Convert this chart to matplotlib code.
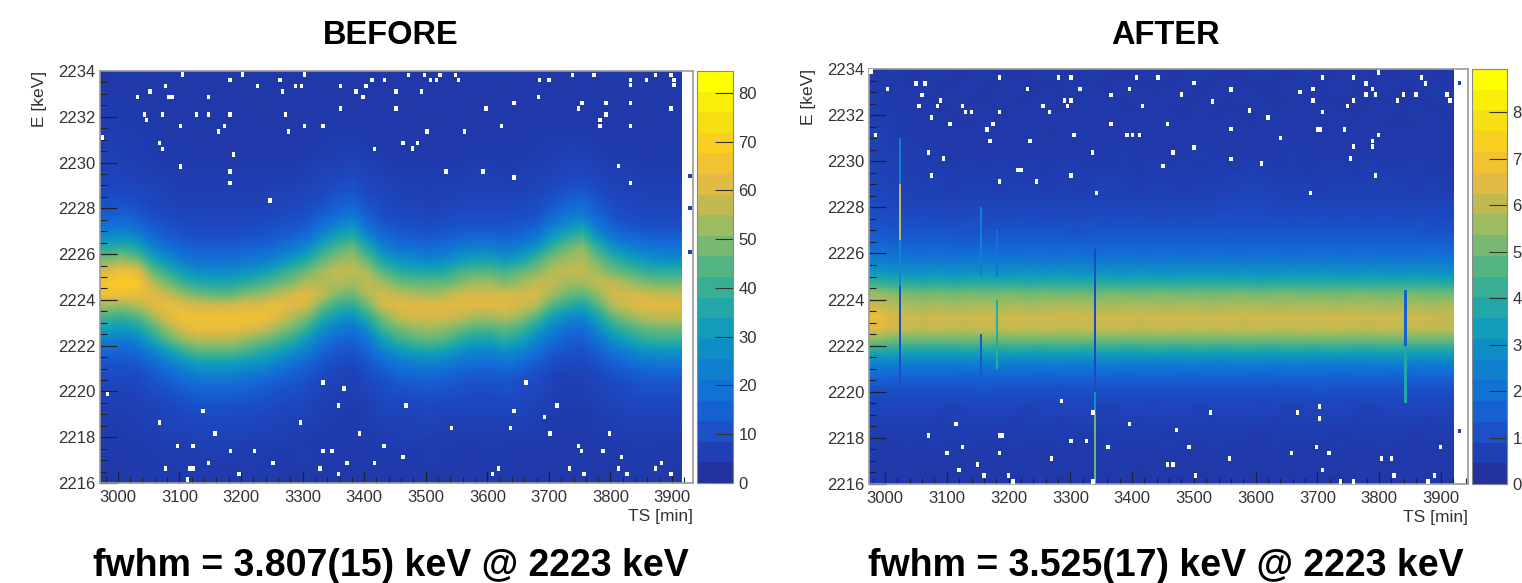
import numpy as np
import matplotlib
matplotlib.use("Agg")
import matplotlib.pyplot as plt
from matplotlib.colors import LinearSegmentedColormap, BoundaryNorm, Normalize
from matplotlib.cm import ScalarMappable
from matplotlib.ticker import MultipleLocator

plt.rcParams['font.family'] = ['Liberation Sans', 'DejaVu Sans']

# Counts per coarse cell, read by eye: rows from 2234 keV down to 2216 keV (0.5 keV), 38 time columns
before_counts = [
[2,3,2,2,3,2,2,2,3,2,2,3,2,2,2,3,2,2,3,2,2,2,3,2,2,3,2,2,2,2,3,2,2,3,2,2,2,3],
[3,2,2,3,2,2,3,2,2,2,3,2,2,3,2,2,2,3,2,2,3,2,2,2,3,2,2,3,2,2,2,3,2,2,2,3,2,2],
[3,3,2,2,3,2,2,3,2,2,2,2,3,2,3,2,2,2,3,2,2,3,2,3,2,2,3,2,2,3,2,2,3,2,2,2,3,2],
[3,3,3,2,2,3,2,2,3,2,2,3,2,2,3,3,2,2,2,3,2,2,3,2,2,3,2,2,3,2,3,2,2,2,3,2,2,3],
[4,3,3,3,2,2,3,2,2,3,2,2,2,3,2,3,3,2,3,2,3,2,2,3,2,2,3,3,2,3,3,3,2,3,2,2,3,2],
[4,4,3,3,3,2,2,3,3,2,3,2,3,2,3,3,3,3,2,3,2,3,3,2,3,3,2,3,3,3,3,3,3,2,3,3,2,3],
[4,4,4,3,3,3,2,3,2,3,2,3,2,3,3,4,4,3,3,2,3,3,2,3,3,3,3,3,3,4,4,4,3,3,3,2,3,3],
[5,4,4,3,3,3,3,2,3,3,3,2,3,3,4,4,5,4,3,3,3,3,3,3,3,3,3,3,4,4,5,5,4,3,3,3,3,3],
[5,5,4,4,3,3,3,3,3,3,3,3,3,4,5,5,6,5,4,3,3,3,3,3,4,4,3,4,4,5,6,6,5,4,4,3,3,3],
[6,6,5,5,4,4,4,4,4,4,4,4,4,5,6,7,8,6,5,4,4,4,4,4,5,5,4,5,5,6,7,8,6,5,5,4,4,4],
[7,7,7,6,5,4,4,4,4,4,4,5,5,6,7,9,10,7,6,5,5,4,5,5,5,5,5,5,6,8,10,11,8,6,5,5,5,5],
[9,10,8,6,5,5,5,5,5,5,5,6,6,7,9,12,14,9,7,6,5,5,5,6,6,6,6,7,8,10,14,16,10,8,6,6,5,5],
[12,13,11,8,7,6,6,6,6,6,6,7,8,9,12,16,19,12,8,7,7,6,7,8,8,8,8,8,9,14,19,21,14,9,8,7,7,7],
[18,19,16,11,9,8,7,7,7,7,8,9,10,12,18,24,28,17,11,9,9,8,9,10,10,10,10,11,13,21,27,31,20,13,10,9,9,9],
[26,28,24,16,12,10,9,9,9,10,10,12,14,17,26,34,38,25,16,13,12,11,12,14,15,15,14,16,20,30,38,42,29,19,16,14,13,13],
[37,40,35,24,18,14,13,13,13,14,15,17,21,26,37,44,48,36,24,19,18,16,18,21,23,23,21,24,30,41,48,52,40,29,24,21,20,19],
[50,53,48,35,27,21,18,18,18,20,21,24,30,37,46,52,54,46,34,28,26,24,26,30,33,33,30,34,42,50,54,56,48,40,34,30,27,27],
[62,66,62,46,38,30,26,26,26,28,30,36,42,48,54,58,58,54,44,38,36,35,36,42,44,44,42,46,50,56,58,58,54,48,44,40,38,38],
[68,70,68,56,48,40,36,35,35,38,42,46,50,56,56,56,54,58,54,48,46,46,46,50,54,54,50,54,58,58,54,54,58,58,54,50,48,48],
[66,66,64,62,58,52,48,46,46,50,52,56,60,62,58,50,48,56,60,58,56,54,56,60,60,60,60,60,60,54,48,46,52,60,60,60,58,58],
[54,52,56,62,64,62,60,60,60,62,62,64,62,60,48,40,38,48,60,62,62,62,62,62,62,62,62,60,56,44,38,34,44,56,60,62,62,62],
[42,40,44,54,62,66,66,66,66,66,66,62,56,50,38,30,27,38,50,58,60,60,60,58,54,54,56,52,44,32,26,24,34,46,52,56,58,58],
[32,30,34,44,54,62,64,64,64,62,60,54,48,40,28,22,19,28,42,48,52,54,52,48,44,44,46,42,33,24,18,16,26,36,42,46,48,48],
[23,21,24,35,45,52,56,56,56,52,48,44,38,30,20,15,13,20,32,40,44,46,44,38,34,34,38,33,25,17,13,12,18,27,33,38,40,40],
[15,14,16,24,32,40,45,45,45,42,38,33,28,22,14,11,10,14,23,29,32,34,32,27,24,24,27,23,18,12,10,9,13,19,23,27,28,28],
[10,10,11,16,22,28,32,32,32,30,28,24,19,15,10,8,7,10,16,20,22,24,22,19,17,17,19,16,12,9,7,7,9,13,16,19,20,20],
[8,8,8,11,15,19,23,23,23,21,19,16,13,11,8,6,5,8,11,14,15,16,15,13,12,12,13,11,9,6,5,5,7,9,11,13,14,14],
[6,6,7,9,11,14,16,16,16,15,13,11,10,8,6,5,4,6,8,10,11,12,11,10,9,9,10,8,7,5,4,4,6,7,8,10,10,10],
[5,5,5,7,8,10,12,12,12,11,10,9,8,7,5,4,4,5,7,8,8,9,8,8,7,7,8,7,6,4,4,4,5,6,7,8,8,8],
[4,4,5,5,6,8,9,9,9,8,8,7,6,6,4,4,3,4,6,6,6,7,6,6,6,6,6,6,5,4,3,3,4,5,6,6,6,6],
[4,4,4,5,6,6,7,7,7,7,6,6,5,5,4,3,3,4,5,5,5,6,5,5,5,5,5,5,4,3,3,3,4,4,5,5,5,5],
[3,3,4,4,5,5,6,6,6,6,5,5,4,4,3,3,3,3,4,4,5,5,4,4,4,4,4,4,4,3,3,3,3,4,4,4,4,4],
[3,3,3,4,4,4,5,5,5,4,4,4,4,3,3,3,3,3,3,4,4,3,4,3,3,4,3,3,3,3,2,3,3,3,3,4,3,3],
[3,3,3,3,4,3,4,4,4,3,4,3,3,4,3,3,2,3,3,3,3,4,3,3,3,3,3,3,3,2,3,2,3,3,3,3,3,3],
[3,2,3,3,3,4,3,3,3,4,3,3,3,3,3,2,3,3,3,3,3,3,3,3,2,3,3,2,3,3,2,3,3,2,3,3,3,2],
[2,3,3,3,3,3,3,3,3,3,3,3,2,3,2,3,2,3,3,2,3,3,2,3,3,3,2,3,2,3,2,3,2,3,3,2,3,3],
]

after_counts = [
[3,3,2,2,3,2,2,3,2,2,2,3,2,2,3,2,2,2,3,2,2,3,2,2,2,3,2,2,3,2,2,3,2,2,2,3,2,2],
[3,3,2,3,2,2,3,2,2,3,2,2,2,3,2,2,3,2,2,2,3,2,2,3,2,2,2,3,2,2,3,2,2,3,2,2,3,2],
[4,3,3,2,2,3,2,2,3,2,2,3,2,2,3,2,2,3,2,3,2,2,3,2,3,2,2,2,3,2,2,2,3,2,2,2,2,3],
[4,3,3,3,2,2,3,2,3,2,3,2,2,3,2,3,2,2,3,2,2,3,2,2,2,3,2,3,2,3,2,2,2,3,2,3,2,2],
[4,4,3,2,3,2,2,3,2,3,2,3,3,2,3,2,3,3,2,3,2,3,2,3,2,2,3,2,3,2,3,2,3,2,2,2,3,2],
[5,4,3,3,3,3,2,3,3,2,3,2,2,3,3,2,3,2,3,3,3,2,3,2,3,3,2,3,2,3,2,3,3,2,3,3,2,3],
[5,4,4,3,3,2,3,3,2,3,3,3,3,2,3,3,3,3,3,2,3,3,3,3,2,3,3,3,3,2,3,3,2,3,3,2,3,3],
[5,5,4,4,3,3,3,3,3,3,3,3,3,3,3,3,4,3,3,3,3,4,3,3,3,3,3,4,3,3,3,3,3,3,3,3,3,3],
[6,5,4,4,4,3,4,3,4,3,4,3,4,4,3,3,4,3,4,3,4,3,4,3,4,4,3,4,3,4,4,3,4,3,3,4,3,3],
[6,5,5,4,5,4,4,4,4,4,4,4,4,4,4,5,4,4,4,4,4,4,4,5,5,5,4,4,4,4,4,4,4,5,4,4,4,4],
[7,6,5,5,5,4,5,5,4,5,5,4,5,4,5,5,5,4,5,5,4,5,5,5,6,6,5,5,5,4,5,5,5,5,5,4,5,4],
[8,7,6,6,6,5,6,6,6,6,6,6,5,6,6,6,6,6,5,6,6,6,6,7,7,7,6,6,6,6,6,6,6,6,6,6,6,6],
[9,8,7,8,7,7,7,8,7,7,8,7,7,7,7,8,7,8,7,7,8,7,8,8,8,8,7,8,7,8,7,8,7,8,7,7,8,7],
[11,10,10,10,9,9,10,9,9,10,9,9,10,9,10,9,10,10,9,10,9,10,10,10,10,9,10,9,10,10,9,10,9,10,9,10,9,9],
[13,12,12,12,12,12,11,12,12,12,13,12,12,11,12,12,12,12,13,12,12,12,12,13,12,12,13,12,12,12,12,13,12,12,12,12,11,12],
[17,16,16,15,16,15,15,16,16,15,16,16,15,16,15,16,16,15,16,16,15,16,16,15,16,16,16,15,16,16,15,16,16,15,16,15,16,15],
[22,21,21,20,21,20,21,21,20,21,21,20,21,21,20,21,21,21,20,21,21,20,21,21,20,21,21,20,21,21,21,20,21,21,20,21,21,20],
[30,29,28,28,29,28,28,29,28,28,29,28,29,28,28,29,28,29,28,28,29,28,29,28,29,28,28,29,28,29,28,28,29,28,28,29,28,28],
[42,40,39,38,39,38,39,39,38,39,38,39,39,38,39,39,38,39,39,38,39,39,39,38,39,38,39,39,39,38,39,39,38,39,39,38,39,38],
[56,54,52,51,52,51,52,51,52,52,51,52,51,52,51,52,52,51,52,52,51,52,51,52,52,51,52,52,51,52,51,52,52,51,52,52,51,51],
[62,60,58,57,58,57,58,58,57,58,57,58,59,58,58,57,58,58,58,57,58,58,57,58,58,58,57,58,58,58,57,58,58,57,58,58,57,58],
[68,64,63,62,63,63,62,63,62,63,63,62,63,63,62,63,63,62,63,63,63,62,63,63,62,63,63,63,62,63,63,63,62,63,62,63,62,62],
[66,63,62,61,62,61,61,62,61,62,61,62,61,61,62,61,62,61,61,62,61,62,61,62,61,62,61,61,62,61,62,61,61,62,61,61,61,61],
[54,51,50,50,50,50,50,51,50,50,51,50,50,51,50,51,50,50,51,50,50,50,50,50,51,50,50,51,50,51,50,50,50,50,51,50,50,50],
[38,37,36,36,36,36,37,36,36,37,36,36,37,36,36,37,36,36,37,36,36,37,36,36,37,36,36,37,36,36,37,36,36,37,36,36,36,36],
[25,24,24,24,24,23,24,24,24,23,24,24,24,23,24,24,24,24,23,24,24,24,23,24,24,24,23,24,24,24,23,24,24,24,24,23,24,24],
[17,16,16,16,16,16,15,16,16,16,16,15,16,16,16,16,15,16,16,16,15,16,16,16,16,15,16,16,16,16,15,16,16,16,15,16,16,16],
[12,11,11,11,11,11,11,12,11,11,11,11,10,11,11,11,11,11,11,10,11,11,11,11,11,11,10,11,11,12,11,11,11,11,11,11,11,11],
[8,8,8,8,8,8,8,8,8,8,8,7,8,8,8,8,8,8,7,8,8,8,8,8,8,7,8,8,8,8,8,7,8,8,8,8,8,8],
[6,6,6,6,6,5,6,6,6,6,5,6,6,6,6,5,6,6,6,6,6,5,6,6,6,6,6,5,6,6,6,6,5,6,6,6,6,6],
[5,5,5,5,4,5,5,5,5,4,5,5,4,5,5,5,5,4,5,5,5,5,4,5,5,5,4,5,5,5,5,4,5,5,5,5,4,5],
[4,4,4,4,4,4,4,4,3,4,4,4,4,4,3,4,4,4,4,3,4,4,4,4,4,3,4,4,4,4,3,4,4,4,4,3,4,4],
[4,3,4,3,4,3,4,3,3,4,3,3,4,3,3,4,3,3,3,4,3,3,4,3,3,3,4,3,3,3,4,3,3,4,3,3,3,3],
[3,3,3,3,3,3,3,3,3,3,3,3,3,3,3,3,3,3,3,3,3,3,3,3,3,3,3,3,3,3,3,3,3,3,3,3,3,3],
[3,3,3,2,3,2,3,3,2,3,3,2,3,3,3,2,3,2,3,3,3,2,3,3,2,3,3,2,3,3,3,2,3,3,2,3,2,3],
[3,2,3,3,2,3,2,3,3,2,3,3,2,3,2,3,3,2,3,2,3,3,2,3,3,2,3,3,2,3,2,3,3,2,3,3,3,2],
]

# Empty bins (white) as (TS, E)
before_empty_ts = [3105,3182,3202,3263,3303,3227,3288,3298,3077,3052,3267,3032,3082,3088,3147,3362,3387,3403,3413,3433,3398,3452,3362,3452,3043,3047,3072,3128,3147,3182,3272,3102,3173,3163,3277,3303,3333,2975,3068,3072,3188,3417,3102,3182,3182,3247,
 3472,3498,3523,3548,3508,3517,3553,3493,3685,3700,3738,3773,3833,3833,3858,3873,3898,3903,3903,3683,3643,3754,3793,3833,3598,3748,3898,3793,3783,3783,3623,3833,3502,3563,3463,3487,3478,3813,3533,3593,3643,3833,
 3333,3367,2983,3358,3138,3068,3297,3158,3392,3097,3122,3432,3183,3222,3333,3348,3463,3147,3252,3372,3417,3077,3117,3123,3328,3197,3358,3113,
 3663,3468,3713,3643,3693,3542,3638,3702,3798,3748,3753,3788,3818,3883,3618,3733,3813,3873,3608,3757,3827,3898]
before_empty_e = [2233.84,2233.6,2233.84,2233.6,2233.84,2233.35,2233.35,2233.35,2233.35,2233.1,2233.1,2232.87,2232.87,2232.87,2232.87,2233.35,2233.1,2233.35,2233.6,2233.6,2232.87,2233.1,2232.36,2232.36,2232.11,2231.85,2232.11,2232.11,2232.11,2232.11,2232.11,2231.6,2231.6,2231.35,2231.35,2231.6,2231.6,2231.1,2230.86,2230.6,2230.35,2230.6,2229.84,2229.6,2229.11,2228.35,
 2233.83,2233.83,2233.83,2233.83,2233.6,2233.6,2233.6,2233.11,2233.6,2233.6,2233.83,2233.83,2233.6,2233.38,2233.6,2233.83,2233.83,2233.6,2233.38,2232.87,2232.6,2232.6,2232.6,2232.6,2232.36,2232.36,2232.36,2232.1,2231.85,2231.6,2231.6,2231.6,2231.35,2231.35,2230.86,2230.86,2230.61,2229.85,2229.6,2229.6,2229.34,2229.11,
 2220.38,2220.13,2219.88,2219.39,2219.14,2218.64,2218.64,2218.15,2218.15,2217.62,2217.62,2217.62,2217.39,2217.39,2217.39,2217.39,2217.14,2216.88,2216.88,2216.88,2216.88,2216.63,2216.63,2216.63,2216.63,2216.39,2216.39,2216.15,
 2220.38,2219.39,2219.39,2219.14,2218.88,2218.4,2218.4,2218.15,2218.15,2217.62,2217.39,2217.39,2217.14,2216.88,2216.63,2216.63,2216.63,2216.63,2216.39,2216.39,2216.39,2216.39]

after_empty_ts = [2977,3185,3281,3301,3407,3442,3050,3065,3004,3231,3316,3396,3060,3366,3090,3291,3301,3055,3085,3125,3256,3295,3417,3130,3140,3185,3266,3075,3105,3175,3366,3457,3165,2985,3306,3392,3401,3412,3170,3235,3070,3336,3466,3095,3215,3221,3075,3301,3185,3245,3342,
 3708,3759,3799,3869,3875,3779,3672,3693,3789,3779,3794,3840,3860,3910,3693,3759,3830,3915,3749,3708,3700,3705,3744,3799,3789,3789,3759,3754,3794,3689,
 3480,3500,3530,3560,3590,3620,3640,3560,3500,3450,3610,3560,
 3286,3337,3115,3396,3070,3185,3190,3301,3326,3125,3361,3100,3185,3270,3150,3457,3466,3120,3160,3200,3207,3337,
 3527,3668,3704,3704,3472,3492,3699,3899,3658,3719,3558,3804,3820,3708,3503,3824,3890,3738,3759,3879]
after_empty_e = [2233.88,2233.62,2233.62,2233.62,2233.62,2233.62,2233.37,2233.37,2233.13,2233.13,2233.13,2233.13,2232.87,2232.87,2232.64,2232.64,2232.64,2232.39,2232.39,2232.39,2232.39,2232.39,2232.39,2232.13,2232.13,2232.13,2232.13,2231.89,2231.62,2231.62,2231.62,2231.62,2231.38,2231.13,2231.13,2231.13,2231.13,2231.13,2230.87,2230.87,2230.38,2230.38,2230.38,2230.12,2229.62,2229.62,2229.37,2229.37,2229.12,2229.12,2228.63,
 2233.64,2233.64,2233.86,2233.64,2233.38,2233.38,2233.0,2233.13,2233.13,2232.9,2232.9,2232.9,2232.9,2232.9,2232.63,2232.63,2232.63,2232.63,2232.39,2232.13,2231.38,2231.38,2231.38,2231.14,2230.88,2230.63,2230.63,2230.12,2229.37,2228.63,
 2232.9,2233.4,2232.6,2233.1,2232.2,2231.9,2231.0,2231.4,2230.6,2229.8,2229.9,2230.1,
 2219.6,2219.1,2218.6,2218.6,2218.1,2218.1,2218.1,2217.86,2217.86,2217.6,2217.6,2217.35,2217.35,2217.1,2216.85,2216.85,2216.85,2216.6,2216.36,2216.36,2216.11,2216.11,
 2219.1,2219.1,2219.35,2218.84,2218.35,2217.6,2217.6,2217.6,2217.35,2217.35,2217.1,2217.1,2217.1,2216.6,2216.36,2216.36,2216.36,2216.11,2216.11,2216.11]

# Isolated filled bins beyond the end of the run
before_stray_ts = [3929,3929,3929]
before_stray_e = [2229.4,2226.1,2228.0]
after_stray_ts = [3930,3930]
after_stray_e = [2233.4,2218.3]

# Thin stripes in the AFTER panel: TS, E from, E to, counts
stripe_ts = [3024,3024,3024,3024,3155,3155,3181,3181,3340,3340,3340,3843,3843]
stripe_lo = [2226.6,2229.0,2224.6,2220.0,2225.0,2220.5,2221.0,2225.0,2220.0,2216.0,2219.0,2222.0,2219.5]
stripe_hi = [2229.0,2231.0,2226.6,2224.6,2228.0,2222.5,2224.0,2227.0,2226.2,2219.0,2220.0,2224.4,2222.0]
stripe_val = [60,24,26,10,24,12,40,20,8,50,30,14,38]

ts_major = [3000,3100,3200,3300,3400,3500,3600,3700,3800,3900]
e_major = [2216,2218,2220,2222,2224,2226,2228,2230,2232,2234]
panels = ["BEFORE", "AFTER"]
results = ["fwhm = 3.807(15) keV @ 2223 keV", "fwhm = 3.525(17) keV @ 2223 keV"]
cb_before = [0,10,20,30,40,50,60,70,80]
cb_after = [0,10,20,30,40,50,60,70,80]

W, H = 1522, 583
fig = plt.figure(figsize=(W/100, H/100), dpi=100, facecolor='white')

def box(l, t, r, b):
    return [l/W, 1-b/H, (r-l)/W, (b-t)/H]

anchors = [(35,50,160),(28,75,195),(20,105,215),(15,130,205),(15,155,190),(45,172,155),
           (95,183,125),(160,187,95),(222,185,70),(250,200,40),(245,228,15),(255,255,0)]
anchor_cols = [tuple(c/255 for c in a) for a in anchors]
cmap_steps = LinearSegmentedColormap.from_list('bird20', anchor_cols, N=20)
cmap_smooth = LinearSegmentedColormap.from_list('bird', anchor_cols, N=256)

def panel(ax_box, cb_box, counts, xlim, hist_end, vmax, empty_ts, empty_e, stray_ts, stray_e, ticks):
    ax = fig.add_axes(box(*ax_box))
    cax = fig.add_axes(box(*cb_box))
    norm = BoundaryNorm(np.linspace(0, vmax, 21), 20)
    smooth = Normalize(0, vmax)
    arr = np.array(counts, float)
    ax.imshow(arr, extent=(xlim[0], hist_end, 2216, 2234), origin='upper', aspect='auto',
              cmap=cmap_smooth, norm=smooth, interpolation='bilinear')
    ax.bar(empty_ts, [0.2]*len(empty_ts), width=5.5, bottom=[e-0.1 for e in empty_e], color='white', linewidth=0, zorder=3)
    ax.bar(stray_ts, [0.18]*len(stray_ts), width=6, bottom=[e-0.09 for e in stray_e], color=cmap_smooth(smooth(5)), linewidth=0, zorder=3)
    ax.set_xlim(*xlim); ax.set_ylim(2216, 2234)
    ax.xaxis.set_minor_locator(MultipleLocator(20))
    ax.yaxis.set_minor_locator(MultipleLocator(0.5))
    ax.set_xticks(ts_major); ax.set_yticks(e_major)
    ax.tick_params(which='major', direction='in', length=12, width=0.9, labelsize=12, color='#222222', labelcolor='#333333', pad=3)
    ax.tick_params(axis='x', which='major', length=9, pad=5)
    ax.tick_params(which='minor', direction='in', length=5, width=0.8, color='#222222')
    ax.tick_params(axis='x', which='minor', length=4)
    ax.ticklabel_format(useOffset=False, style='plain')
    for s in ax.spines.values():
        s.set_color('#9a9a9a'); s.set_linewidth(1.2)
    ax.set_xlabel("TS [min]", fontsize=12.5, color='#333333', ha='right', x=1.0, labelpad=3)
    ax.set_ylabel("E [keV]", fontsize=12.5, color='#333333', ha='right', y=1.0, labelpad=8)
    cb = fig.colorbar(ScalarMappable(norm=norm, cmap=cmap_steps), cax=cax, spacing='proportional', drawedges=False)
    cb.set_ticks(ticks)
    cb.minorticks_off()
    cb.ax.tick_params(direction='in', length=13, width=0.8, labelsize=12, color='#333333', labelcolor='#333333', pad=4)
    cb.outline.set_edgecolor('#888888'); cb.outline.set_linewidth(0.8)
    return ax, smooth

ax1, n1 = panel((100,71,693,483), (697,71,733,483), before_counts, (2971,3934), 3916, 84.5,
                before_empty_ts, before_empty_e, before_stray_ts, before_stray_e, cb_before)
ax2, n2 = panel((869,69,1468,484), (1472,69,1507,484), after_counts, (2974,3944), 3921, 89.3,
                after_empty_ts, after_empty_e, after_stray_ts, after_stray_e, cb_after)

for t, lo, hi, v in zip(stripe_ts, stripe_lo, stripe_hi, stripe_val):
    ax2.bar(t, hi-lo, width=4, bottom=lo, color=cmap_smooth(n2(v)), linewidth=0, zorder=2)

for cx, title, res in zip((391, 1166), panels, results):
    fig.text(cx/W, 1-35/H, title, ha='center', va='center', fontsize=23.5, fontweight='bold', color='black')
    fig.text(cx/W, 1-566/H, res, ha='center', va='center', fontsize=27, fontweight='bold', color='black')

fig.savefig("out.png", dpi=100)
